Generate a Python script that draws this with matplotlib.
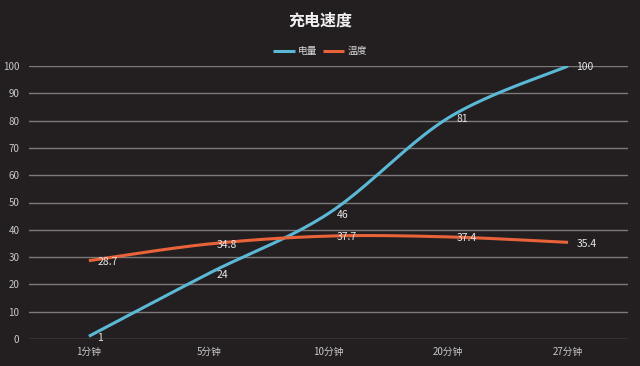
import numpy as np
import matplotlib.pyplot as plt

plt.rcParams['font.family'] = ['Noto Sans CJK SC', 'DejaVu Sans']

categories = ['1分钟', '5分钟', '10分钟', '20分钟', '27分钟']
charge = [1, 24, 46, 81, 100]
temp = [28.7, 34.8, 37.7, 37.4, 35.4]

bg = '#231f20'
blue = '#5bb8d6'
orange = '#e8633a'


def smooth(xs, ys, n=40):
    # Catmull-Rom style bezier like Excel's smoothed line
    p = np.column_stack([xs, ys]).astype(float)
    p = np.vstack([p[0], p, p[-1]])
    out = []
    for i in range(1, len(p) - 2):
        p0, p1, p2, p3 = p[i - 1], p[i], p[i + 1], p[i + 2]
        c1 = p1 + (p2 - p0) / 6
        c2 = p2 - (p3 - p1) / 6
        t = np.linspace(0, 1, n)[:, None]
        seg = ((1 - t) ** 3) * p1 + 3 * ((1 - t) ** 2) * t * c1 + 3 * (1 - t) * t ** 2 * c2 + t ** 3 * p2
        out.append(seg)
    s = np.vstack(out)
    return s[:, 0], s[:, 1]


fig = plt.figure(figsize=(6.4, 3.66), dpi=100, facecolor=bg)
ax = fig.add_axes([29 / 640, 1 - 339 / 366, 599 / 640, 273 / 366], facecolor=bg)

x = np.arange(len(categories))
sx, sy = smooth(x, charge)
ax.plot(sx, sy, color=blue, lw=2.2, label='电量', solid_capstyle='butt', zorder=3)
tx, ty = smooth(x, temp)
ax.plot(tx, ty, color=orange, lw=2.2, label='温度', solid_capstyle='butt', zorder=3)

for xi, v in zip(x, charge):
    ax.annotate(str(v), (xi, v), xytext=(6, -1), textcoords='offset points',
                ha='left', va='center', color='#e6e6e6', fontsize=7.5, zorder=4)
for xi, v in zip(x, temp):
    ax.annotate(str(v), (xi, v), xytext=(6, -1), textcoords='offset points',
                ha='left', va='center', color='#e6e6e6', fontsize=7.5, zorder=4)

ax.set_xlim(-0.5, len(categories) - 0.5)
ax.set_ylim(0, 100)
ax.set_yticks(range(0, 101, 10))
ax.set_xticks(x)
ax.set_xticklabels(categories)
ax.yaxis.grid(True, color='#7a7a7a', lw=1)
ax.set_axisbelow(True)
for s in ax.spines.values():
    s.set_visible(False)
ax.tick_params(axis='both', length=0, colors='#c8c8c8', labelsize=7)
ax.tick_params(axis='y', pad=7)
ax.tick_params(axis='x', pad=6)

fig.text(0.5, 1 - 21 / 366, '充电速度', ha='center', va='center', color='#f0f0f0',
         fontsize=11.5, fontweight='bold')
fig.legend(loc='center', bbox_to_anchor=(0.5, 1 - 51 / 366), ncol=2, frameon=False,
           fontsize=7, labelcolor='#d8d8d8', handlelength=2.2, handletextpad=0.3,
           columnspacing=0.6)

fig.savefig('out.png', dpi=100, facecolor=bg)
